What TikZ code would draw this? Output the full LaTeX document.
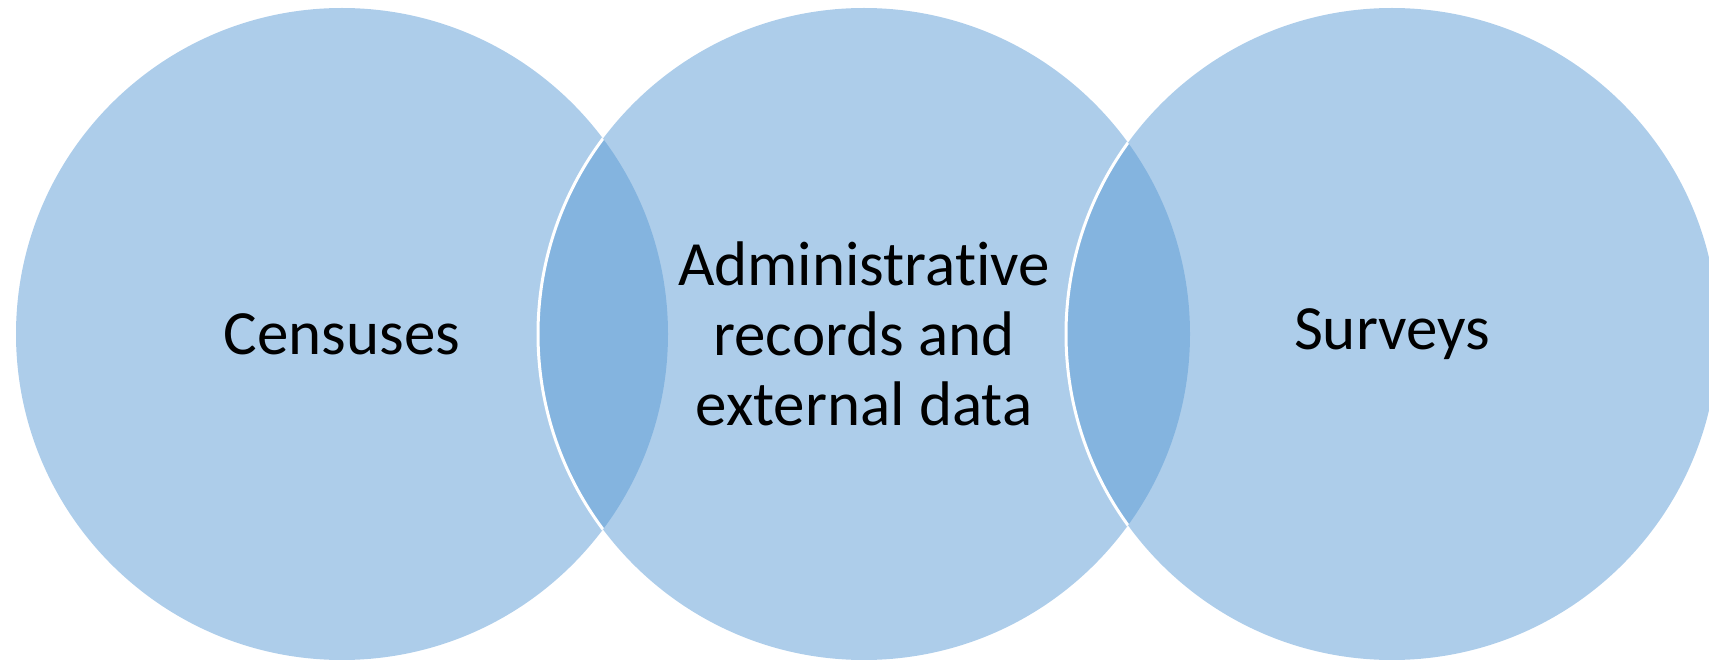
\documentclass[tikz,border=0pt]{standalone}
\usepackage{fontspec}
\setmainfont{Carlito}[Ligatures=CommonOff]
\begin{document}
\begin{tikzpicture}[x=1pt,y=-1pt,
  set/.style={circle, minimum size=652pt, inner sep=0pt, outer sep=0pt,
    fill=setblue, fill opacity=0.5, text opacity=1, align=center,
    font=\fontsize{63}{70}\selectfont},
  seam/.style={draw=white, line width=3pt}]
\definecolor{setblue}{HTML}{5B9BD5}
\useasboundingbox (0,0) rectangle (1709,660);
\node[set] (census) at (342,334) {Censuses};
\node[set] (admin)  at (864,334) {Administrative\\records and\\external data};
\node[set] (survey) at (1392,334) {Surveys};
% white seams where a set overlaps the one before it
\begin{scope}
  \clip (census.center) circle (326pt);
  \draw[seam] (admin.center) circle (326pt);
\end{scope}
\begin{scope}
  \clip (admin.center) circle (326pt);
  \draw[seam] (survey.center) circle (326pt);
\end{scope}
\end{tikzpicture}
\end{document}
